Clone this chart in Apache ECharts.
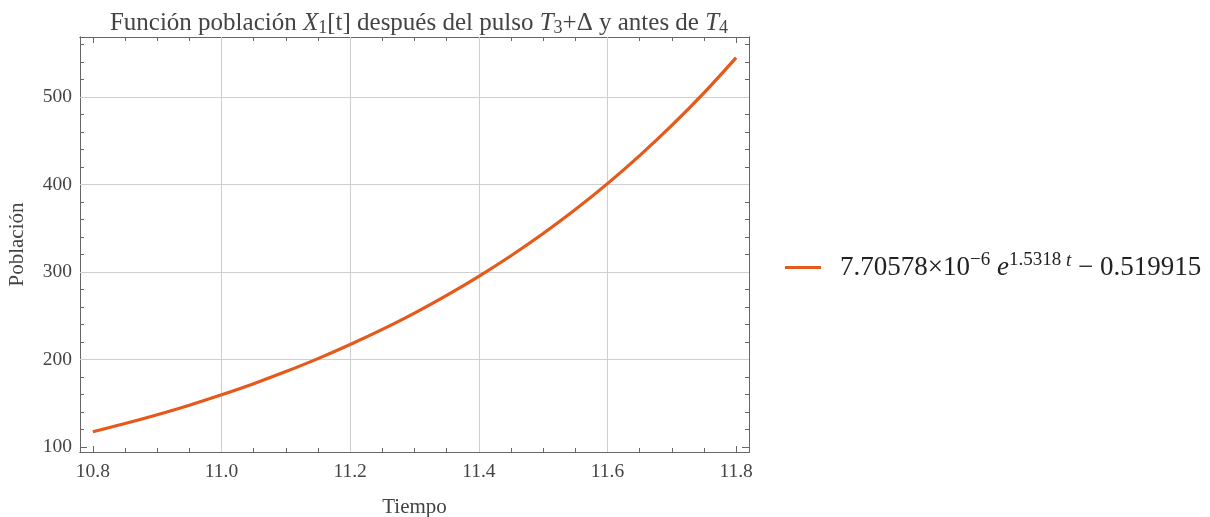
<!DOCTYPE html>
<html>
<head>
<meta charset="utf-8">
<script src="https://cdn.jsdelivr.net/npm/echarts@6/dist/echarts.min.js"></script>
<style>
  html, body { margin: 0; padding: 0; background: #fff; }
  #chart { width: 1210px; height: 517px; }
</style>
</head>
<body>
<div id="chart"></div>
<script>
// Time samples (t) and population X1[t] after pulse T3+Δ, before T4
const tiempo = [10.80, 10.85, 10.90, 10.95, 11.00, 11.05, 11.10, 11.15, 11.20, 11.25,
                11.30, 11.35, 11.40, 11.45, 11.50, 11.55, 11.60, 11.65, 11.70, 11.75, 11.80];
const poblacion = [117.4, 126.8, 136.9, 147.8, 159.7, 172.4, 186.2, 201.0, 217.1, 234.4,
                   253.1, 273.3, 295.1, 318.6, 344.0, 371.4, 401.0, 433.0, 467.5, 504.7, 545.0];

// Axis ticks and grid lines
const xMajor = [10.8, 11.0, 11.2, 11.4, 11.6, 11.8];
const xMinor = [10.85, 10.9, 10.95, 11.05, 11.1, 11.15, 11.25, 11.3, 11.35,
                11.45, 11.5, 11.55, 11.65, 11.7, 11.75];
const xGrid = [11.0, 11.2, 11.4, 11.6];
const yMajor = [100, 200, 300, 400, 500];
const yMinor = [120, 140, 160, 180, 220, 240, 260, 280, 320, 340, 360, 380,
                420, 440, 460, 480, 520, 540, 560];
const yGrid = [200, 300, 400, 500];

const seriesName = 'X1';
const lineColor = '#E5591A';
const serif = '"Liberation Serif", "DejaVu Serif", serif';
const frameColor = '#666';
const X_MIN = 10.78, X_MAX = 11.82, Y_MIN = 94.3, Y_MAX = 568.6;

function xAxisDef(position, ticks, len, labels) {
  return {
    type: 'value', position: position, min: X_MIN, max: X_MAX,
    axisLine: { show: true, onZero: false, lineStyle: { color: frameColor, width: 1 } },
    axisTick: { show: true, inside: true, length: len, customValues: ticks,
                lineStyle: { color: frameColor, width: 1 } },
    axisLabel: labels ? {
      show: true, customValues: xMajor, margin: 10,
      formatter: v => v.toFixed(1),
      fontFamily: serif, fontSize: 19.5, color: '#444'
    } : { show: false },
    splitLine: { show: false }
  };
}
function yAxisDef(position, ticks, len, labels) {
  return {
    type: 'value', position: position, min: Y_MIN, max: Y_MAX,
    axisLine: { show: true, onZero: false, lineStyle: { color: frameColor, width: 1 } },
    axisTick: { show: true, inside: true, length: len, customValues: ticks,
                lineStyle: { color: frameColor, width: 1 } },
    axisLabel: labels ? {
      show: true, customValues: yMajor, margin: 8,
      formatter: v => String(Math.round(v)),
      fontFamily: serif, fontSize: 19.5, color: '#444'
    } : { show: false },
    splitLine: { show: false }
  };
}

const xAxes = [
  xAxisDef('bottom', xMajor, 6, true),
  xAxisDef('bottom', xMinor, 4, false),
  xAxisDef('top', xMajor, 6, false),
  xAxisDef('top', xMinor, 4, false)
];
Object.assign(xAxes[0], {
  name: 'Tiempo', nameLocation: 'middle', nameGap: 45,
  nameTextStyle: { fontFamily: serif, fontSize: 21, color: '#444' }
});
const yAxes = [
  yAxisDef('left', yMajor, 7, true),
  yAxisDef('left', yMinor, 4, false),
  yAxisDef('right', yMajor, 7, false),
  yAxisDef('right', yMinor, 4, false)
];
Object.assign(yAxes[0], {
  name: 'Población', nameLocation: 'middle', nameGap: 52,
  nameTextStyle: { fontFamily: serif, fontSize: 21, color: '#444' }
});

const gridLines = xGrid.map(v => ({ xAxis: v })).concat(yGrid.map(v => ({ yAxis: v })));

const chart = echarts.init(document.getElementById('chart'), null, { renderer: 'canvas' });
chart.setOption({
  animation: false,
  backgroundColor: '#ffffff',
  title: {
    text: 'Función población {i|X}{sub|1}[t] después del pulso {i|T}{sub|3}+Δ y antes de {i|T}{sub|4}',
    left: 414, top: 5, textAlign: 'center',
    textStyle: {
      fontFamily: serif, fontSize: 25, fontWeight: 'normal', color: '#444',
      rich: {
        i: { fontFamily: serif, fontSize: 25, fontStyle: 'italic', color: '#444' },
        sub: { fontFamily: serif, fontSize: 18, color: '#444', padding: [9, 0, 0, 0] }
      }
    }
  },
  legend: {
    left: 780, top: 246, orient: 'vertical',
    itemWidth: 36, itemHeight: 3, itemGap: 10,
    icon: 'rect',
    data: [seriesName],
    formatter: () => '{n|7.70578×10}{sup|−6} {e|e}{sup|1.5318 }{supi|t}{n| − 0.519915}',
    textStyle: {
      fontFamily: serif, fontSize: 27, color: '#222', padding: [0, 0, 0, 14],
      rich: {
        n: { fontFamily: serif, fontSize: 27, color: '#222' },
        e: { fontFamily: serif, fontSize: 27, fontStyle: 'italic', color: '#222' },
        sup: { fontFamily: serif, fontSize: 19, color: '#222', padding: [0, 0, 14, 0] },
        supi: { fontFamily: serif, fontSize: 19, fontStyle: 'italic', color: '#222', padding: [0, 0, 14, 0] }
      }
    }
  },
  grid: { left: 80, right: 461, top: 37, bottom: 65, containLabel: false, outerBoundsMode: 'none' },
  xAxis: xAxes,
  yAxis: yAxes,
  series: [{
    name: seriesName,
    type: 'line',
    xAxisIndex: 0, yAxisIndex: 0,
    data: tiempo.map((t, i) => [t, poblacion[i]]),
    smooth: 0.4,
    showSymbol: false,
    lineStyle: { color: lineColor, width: 3.2 },
    itemStyle: { color: lineColor },
    z: 5,
    markLine: {
      silent: true, symbol: 'none', animation: false,
      label: { show: false },
      lineStyle: { color: '#cfcfcf', width: 1, type: 'solid' },
      data: gridLines,
      z: 1
    }
  }]
});
</script>
</body>
</html>
